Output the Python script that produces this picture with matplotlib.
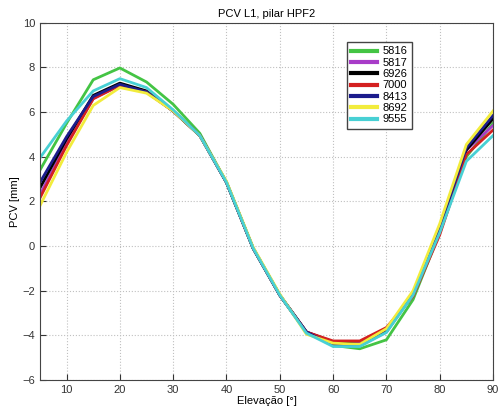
#!/usr/bin/env python3

import numpy as np
import matplotlib.pyplot as plt

elevation = np.arange(5, 95, 5)

pcv_5816 = [3.4, 5.5, 7.45, 7.98, 7.35, 6.35, 5.05, 2.85, -0.1, -2.2, -3.85, -4.45, -4.6, -4.2, -2.4, 0.6, 4.0, 5.5]
pcv_5817 = [2.3, 4.6, 6.6, 7.2, 6.9, 6.05, 4.95, 2.85, -0.1, -2.2, -3.85, -4.3, -4.3, -3.7, -2.2, 0.7, 4.3, 5.4]
pcv_6926 = [2.6, 4.8, 6.75, 7.3, 6.95, 6.05, 4.95, 2.85, -0.1, -2.2, -3.85, -4.3, -4.4, -3.75, -2.15, 0.8, 4.3, 5.7]
pcv_7000 = [2.15, 4.5, 6.6, 7.2, 6.9, 6.05, 4.95, 2.85, -0.1, -2.2, -3.85, -4.25, -4.25, -3.65, -2.25, 0.5, 4.1, 5.2]
pcv_8413 = [2.85, 4.9, 6.7, 7.25, 6.9, 6.05, 4.95, 2.85, -0.1, -2.2, -3.85, -4.45, -4.45, -3.85, -2.15, 0.8, 4.4, 5.85]
pcv_8692 = [1.8, 4.2, 6.3, 7.1, 6.85, 6.05, 4.95, 2.9, -0.05, -2.15, -3.95, -4.35, -4.4, -3.7, -2.0, 1.0, 4.55, 6.05]
pcv_9555 = [3.95, 5.6, 6.95, 7.5, 7.1, 6.1, 4.95, 2.85, -0.1, -2.2, -3.9, -4.5, -4.5, -3.87, -2.2, 0.6, 3.8, 4.95]

labels = ["5816", "5817", "6926", "7000", "8413", "8692", "9555"]
series = [pcv_5816, pcv_5817, pcv_6926, pcv_7000, pcv_8413, pcv_8692, pcv_9555]
colors = ["#44c444", "#a83cc8", "#000000", "#d42020", "#1c1c8c", "#f2ec3c", "#48d0d4"]

plt.rcParams["font.family"] = ["Liberation Sans", "DejaVu Sans"]

fig = plt.figure(figsize=(4.99, 4.11), dpi=100)
ax = fig.add_axes([0.080, 0.0754, 0.908, 0.869])

for values, label, color in zip(series, labels, colors):
    ax.plot(elevation, values, color=color, linewidth=2.0, label=label)

ax.set_xlim(5, 90)
ax.set_ylim(-6, 10)
ax.set_xticks(range(10, 100, 10))
ax.set_yticks(range(-6, 12, 2))
ax.grid(True, color="#c0c0c0", linestyle=":", linewidth=0.8)
ax.tick_params(direction="in", labelsize=8, length=4, colors="#333333")
for spine in ax.spines.values():
    spine.set_color("#444444")

ax.set_title("PCV L1, pilar HPF2", fontsize=8, pad=4)
ax.set_xlabel("Elevação [°]", fontsize=8, labelpad=1)
ax.set_ylabel("PCV [mm]", fontsize=8, labelpad=2)

leg = ax.legend(loc="upper left", bbox_to_anchor=(0.665, 0.962), fontsize=8,
                fancybox=False, framealpha=1, edgecolor="#444444",
                handlelength=2.3, labelspacing=0.12, borderpad=0.4, handletextpad=0.5)
for line in leg.get_lines():
    line.set_linewidth(3)

fig.savefig("out.png", dpi=100)
